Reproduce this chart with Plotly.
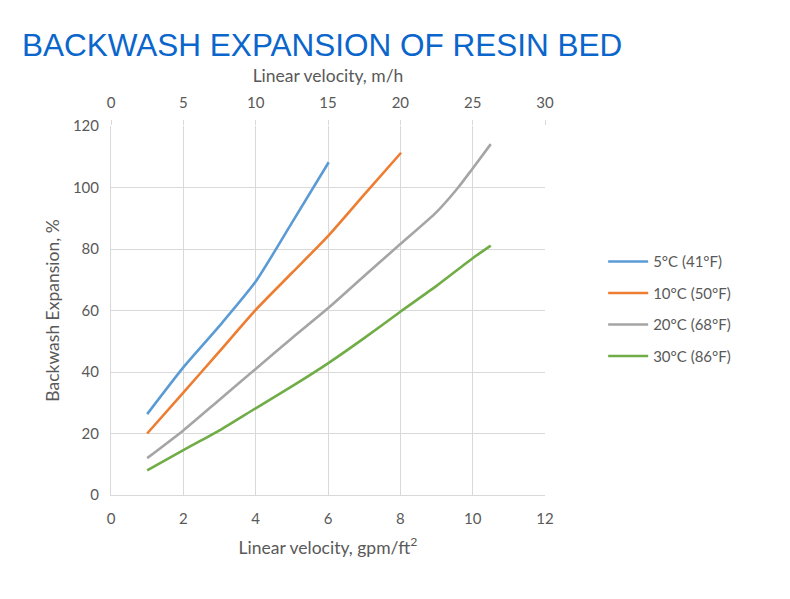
import plotly.graph_objects as go

# Data (x in gpm/ft2, y in % expansion)
x_5c = [1, 2, 3, 4, 5, 6.02]
y_5c = [26.3, 41.5, 55, 69.4, 88.5, 108.2]

x_10c = [1, 2, 3, 4, 5, 6, 7, 8.02]
y_10c = [20, 33.3, 46.7, 60.2, 72.2, 84.2, 97.7, 111.3]

x_20c = [1, 2, 3, 4, 5, 6, 7, 8, 9, 9.6, 10, 10.5]
y_20c = [12, 21, 31, 41, 51, 60.7, 71.2, 81.6, 92, 100, 106.2, 114.1]

x_30c = [1, 2, 3, 4, 5, 6, 7, 8, 9, 10, 10.5]
y_30c = [8, 14.6, 21, 28.2, 35.3, 42.8, 51, 59.6, 68, 77, 81.1]

series_names = ["5°C (41°F)", "10°C (50°F)", "20°C (68°F)", "30°C (86°F)"]
series_colors = ["#5B9BD5", "#ED7D31", "#A5A5A5", "#70AD47"]

bottom_ticks = [0, 2, 4, 6, 8, 10, 12]
top_ticks = [0, 5, 10, 15, 20, 25, 30]
y_ticks = [0, 20, 40, 60, 80, 100, 120]

font_family = "Lato, 'Open Sans', sans-serif"
label_color = "#595959"
grid_color = "#D9D9D9"
tick_size = 15
title_size = 17.5

fig = go.Figure()
for xs, ys, name, color in zip([x_5c, x_10c, x_20c, x_30c],
                               [y_5c, y_10c, y_20c, y_30c],
                               series_names, series_colors):
    fig.add_trace(go.Scatter(x=xs, y=ys, name=name, mode="lines",
                             line=dict(color=color, width=2.6, shape="spline", smoothing=0.6),
                             legendgroup=name))

# invisible trace for top axis
fig.add_trace(go.Scatter(x=[0, 30], y=[0, 0], xaxis="x2", mode="lines",
                         line=dict(width=0), showlegend=False, hoverinfo="skip"))

fig.update_layout(
    width=790, height=599,
    margin=dict(l=103, r=253, t=118, b=112, autoexpand=False),
    paper_bgcolor="white", plot_bgcolor="white",
    font=dict(family=font_family, color=label_color, size=tick_size),
    title=dict(text="BACKWASH EXPANSION OF RESIN BED",
               font=dict(family="'Liberation Sans', Arial, sans-serif", size=31.5, color="#0B66CC"),
               xref="container", x=14 / 790, xanchor="left",
               yref="container", y=1 - 37 / 599, yanchor="middle"),
    xaxis=dict(range=[0, 12], tickvals=bottom_ticks, showgrid=True, gridcolor=grid_color,
               gridwidth=1, zeroline=False, showline=True, linecolor=grid_color,
               ticks="", ticklabelstandoff=10, tickfont=dict(size=tick_size, color=label_color),
               title=dict(text="Linear velocity, gpm/ft<sup>2</sup>",
                          font=dict(size=title_size, color=label_color), standoff=15)),
    xaxis2=dict(range=[0, 30], tickvals=top_ticks, overlaying="x", side="top",
                showgrid=False, zeroline=False, showline=False,
                ticks="outside", ticklen=5, tickcolor=grid_color, ticklabelstandoff=6,
                tickfont=dict(size=tick_size, color=label_color),
                title=dict(text="Linear velocity, m/h",
                           font=dict(size=title_size, color=label_color), standoff=5)),
    yaxis=dict(range=[0, 120], tickvals=y_ticks, showgrid=True, gridcolor=grid_color,
               zeroline=False, showline=True, linecolor=grid_color,
               ticks="", ticklabelstandoff=8, tickfont=dict(size=tick_size, color=label_color),
               title=dict(text="Backwash Expansion, %",
                          font=dict(size=title_size, color=label_color), standoff=8)),
    legend=dict(x=1.134, xanchor="left", y=0.677, yanchor="top",
                font=dict(size=tick_size, color=label_color), itemwidth=40,
                tracegroupgap=9, traceorder="grouped", bgcolor="rgba(0,0,0,0)"),
    showlegend=True,
)

fig.write_html("out.html")
